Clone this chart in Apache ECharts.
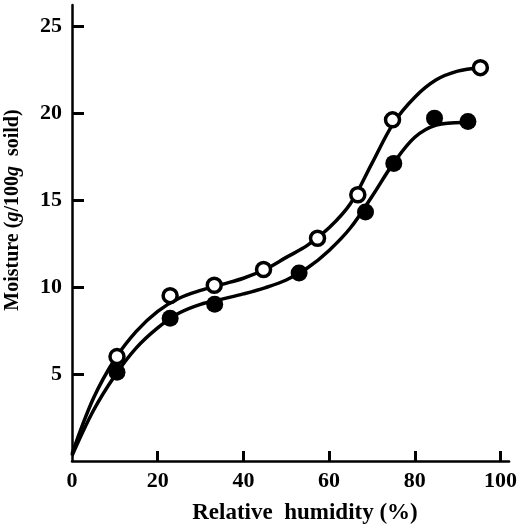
<!DOCTYPE html>
<html>
<head>
<meta charset="utf-8">
<script src="https://cdn.jsdelivr.net/npm/echarts@6/dist/echarts.min.js"></script>
<style>
  html, body { margin: 0; padding: 0; background: #fff; }
  #chart { width: 520px; height: 527px; }
</style>
</head>
<body>
<div id="chart"></div>
<script>
// measured points (relative humidity %, moisture g/100g)
const openRH = [10.5, 22.9, 33.2, 44.7, 57.3, 66.7, 74.8, 95.3]
const openMoist = [6.0, 9.5, 10.1, 11.0, 12.8, 15.3, 19.6, 22.6]
const filledRH = [10.5, 22.9, 33.3, 53.0, 68.5, 75.1, 84.6, 92.4]
const filledMoist = [5.1, 8.2, 9.0, 10.8, 14.3, 17.1, 19.7, 19.5]

// fitted curves, every 5 % RH
const upperCurveRH = [0, 5, 10, 15, 20, 25, 30, 35, 40, 45, 50, 55, 60, 65, 70, 75, 80, 85, 90, 95.2]
const upperCurveMoist = [0.4, 3.6, 5.85, 7.45, 8.6, 9.35, 9.8, 10.15, 10.5, 11.0, 11.7, 12.4, 13.4, 14.8, 17.1, 19.4, 20.9, 21.9, 22.4, 22.6]
const lowerCurveRH = [0, 5, 10, 15, 20, 25, 30, 35, 40, 45, 50, 55, 60, 65, 70, 75, 80, 85, 91.3]
const lowerCurveMoist = [0.3, 2.9, 4.9, 6.5, 7.65, 8.5, 9.0, 9.3, 9.6, 9.95, 10.4, 11.1, 12.1, 13.4, 15.2, 17.1, 18.6, 19.3, 19.45]

const xTicks = [20, 40, 60, 80, 100]
const xTickLabels = [0, 20, 40, 60, 80, 100]
const yTicks = [5, 10, 15, 20, 25]

const zip = (a, b) => a.map((v, i) => [v, b[i]])

const font = 'Liberation Serif'
const chart = echarts.init(document.getElementById('chart'))

const option = {
  animation: false,
  backgroundColor: '#fff',
  grid: { left: 72, right: 3, top: 5, bottom: 66 },
  xAxis: {
    type: 'value',
    min: 0,
    max: 102,
    interval: 20,
    splitLine: { show: false },
    axisLine: { lineStyle: { color: '#000', width: 2.5 } },
    axisTick: { inside: true, length: 10, customValues: xTicks, lineStyle: { color: '#000', width: 3 } },
    axisLabel: {
      customValues: xTickLabels,
      margin: 9,
      color: '#000',
      fontFamily: font,
      fontWeight: 'bold',
      fontSize: 22
    }
  },
  yAxis: {
    type: 'value',
    min: 0,
    max: 26.2,
    interval: 5,
    splitLine: { show: false },
    axisLine: { lineStyle: { color: '#000', width: 2.5 } },
    axisTick: { inside: true, length: 12, customValues: yTicks, lineStyle: { color: '#000', width: 3 } },
    axisLabel: {
      customValues: yTicks,
      margin: 10,
      color: '#000',
      fontFamily: font,
      fontWeight: 'bold',
      fontSize: 22
    }
  },
  graphic: [
    {
      type: 'text',
      x: 305,
      y: 513,
      style: {
        text: 'Relative  humidity (%)',
        fontFamily: font,
        fontWeight: 'bold',
        fontSize: 23,
        fill: '#000',
        align: 'center',
        verticalAlign: 'middle'
      }
    },
    {
      type: 'text',
      x: 13,
      y: 210,
      rotation: Math.PI / 2,
      style: {
        text: 'Moisture ({i|g}/100{i|g}  soild)',
        fontFamily: font,
        fontWeight: 'bold',
        fontSize: 20,
        fill: '#000',
        align: 'center',
        verticalAlign: 'middle',
        rich: {
          i: { fontFamily: font, fontWeight: 'bold', fontStyle: 'italic', fontSize: 20, fill: '#000' }
        }
      }
    }
  ],
  series: [
    {
      type: 'line',
      data: zip(upperCurveRH, upperCurveMoist),
      smooth: 0.35,
      showSymbol: false,
      lineStyle: { color: '#000', width: 3.5 },
      z: 2
    },
    {
      type: 'line',
      data: zip(lowerCurveRH, lowerCurveMoist),
      smooth: 0.35,
      showSymbol: false,
      lineStyle: { color: '#000', width: 3.5 },
      z: 2
    },
    {
      type: 'scatter',
      data: zip(openRH, openMoist),
      symbol: 'circle',
      symbolSize: 14,
      itemStyle: { color: '#fff', borderColor: '#000', borderWidth: 3.5, opacity: 1 },
      z: 3
    },
    {
      type: 'scatter',
      data: zip(filledRH, filledMoist),
      symbol: 'circle',
      symbolSize: 17,
      itemStyle: { color: '#000', opacity: 1 },
      z: 3
    }
  ]
}

chart.setOption(option)
</script>
</body>
</html>
